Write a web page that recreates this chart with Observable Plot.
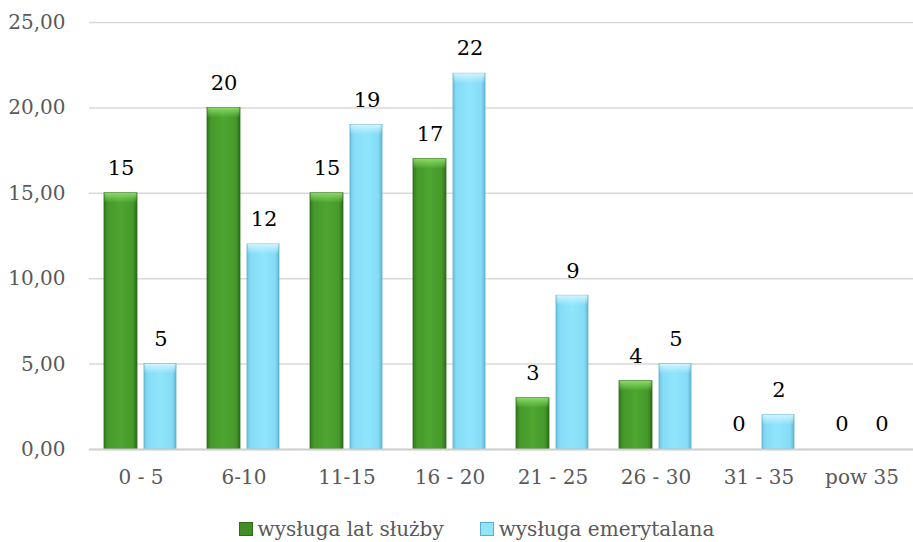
<!DOCTYPE html>
<html>
<head>
<meta charset="utf-8">
<script src="https://cdn.jsdelivr.net/npm/d3@7"></script>
<script src="https://cdn.jsdelivr.net/npm/@observablehq/plot@0.6"></script>
<style>
  body { margin: 0; background: #fff; }
  #chart { width: 913px; font-family: "DejaVu Serif", serif; }
  .legend { display: flex; justify-content: center; align-items: center; gap: 36px; font-size: 20px; color: #595959; font-family: "DejaVu Serif", serif; height: 37px; padding-top: 5px; margin-left: 40px; }
  .legend span.sw { display: inline-block; width: 12px; height: 12px; margin-right: 5px; vertical-align: middle; position: relative; top: -1px; }
</style>
</head>
<body>
<div id="chart"></div>
<script>
const categories = ["0 - 5", "6-10", "11-15", "16 - 20", "21 - 25", "26 - 30", "31 - 35", "pow 35"];
const seriesNames = ["wysługa lat służby", "wysługa emerytalana"];
const sluzby = [15, 20, 15, 17, 3, 4, 0, 0];
const emerytalna = [5, 12, 19, 22, 9, 5, 2, 0];
const yTicks = [0, 5, 10, 15, 20, 25];

const green = categories.map((c, i) => ({cat: c, value: sluzby[i]}));
const blue = categories.map((c, i) => ({cat: c, value: emerytalna[i]}));
const fmt = v => d3.format(".2f")(v).replace(".", ",");

const plot = Plot.plot({
  width: 913,
  height: 505,
  marginLeft: 89,
  marginRight: 0,
  marginTop: 22,
  marginBottom: 56,
  style: {fontFamily: "'DejaVu Serif', serif", fontSize: "20px", color: "#595959", overflow: "visible"},
  x: {domain: categories, padding: 0, label: null, tickSize: 0, tickPadding: 20},
  y: {domain: [0, 25], ticks: yTicks, tickFormat: fmt, label: null, tickSize: 0, tickPadding: 24},
  marks: [
    Plot.gridY(yTicks, {stroke: "#d9d9d9", strokeOpacity: 1, strokeWidth: 1.5}),
    Plot.barY(green.filter(d => d.value > 0), {x: "cat", y: "value", insetLeft: 15, insetRight: 55, fill: "url(#gGreen)", stroke: "#2f6b19", strokeWidth: 0.8}),
    Plot.barY(blue.filter(d => d.value > 0), {x: "cat", y: "value", insetLeft: 55, insetRight: 16, fill: "url(#gBlue)", stroke: "#5aaecb", strokeWidth: 0.8}),
    Plot.rect(green.filter(d => d.value > 0), {x: "cat", y1: "value", y2: "value", insetLeft: 15.5, insetRight: 55.5, insetBottom: -10, fill: "url(#gGreenTop)"}),
    Plot.rect(blue.filter(d => d.value > 0), {x: "cat", y1: "value", y2: "value", insetLeft: 55.5, insetRight: 16.5, insetBottom: -10, fill: "url(#gBlueTop)"}),
    Plot.ruleY([0], {stroke: "#d0d0d0", strokeWidth: 2}),
    Plot.text(green, {x: "cat", y: "value", text: d => String(d.value), dx: -20, dy: -25, fill: "#000", fontSize: 21}),
    Plot.text(blue, {x: "cat", y: "value", text: d => String(d.value), dx: 20, dy: -25, fill: "#000", fontSize: 21})
  ]
});

const defs = d3.create("svg:defs");
function hgrad(id, stops) {
  const g = defs.append("linearGradient").attr("id", id).attr("x1", 0).attr("x2", 1).attr("y1", 0).attr("y2", 0);
  stops.forEach(([o, c]) => g.append("stop").attr("offset", o).attr("stop-color", c));
}
function vgrad(id, c) {
  const g = defs.append("linearGradient").attr("id", id).attr("x1", 0).attr("x2", 0).attr("y1", 0).attr("y2", 1);
  g.append("stop").attr("offset", 0).attr("stop-color", c).attr("stop-opacity", 0.95);
  g.append("stop").attr("offset", 1).attr("stop-color", c).attr("stop-opacity", 0);
}
hgrad("gGreen", [[0, "#2f7a1a"], [0.12, "#46982b"], [0.5, "#4ea630"], [0.88, "#46982b"], [1, "#2a6b17"]]);
hgrad("gBlue", [[0, "#6cc6e2"], [0.12, "#86dcf6"], [0.5, "#8fe5fc"], [0.88, "#86dcf6"], [1, "#62b8d6"]]);
vgrad("gGreenTop", "#8ede6a");
vgrad("gBlueTop", "#d4f6ff");
plot.insertBefore(defs.node(), plot.firstChild);

document.getElementById("chart").appendChild(plot);

const legend = document.createElement("div");
legend.className = "legend";
const cols = [["#3f8f25", "#2f6b19"], ["#8fe5fc", "#5aaecb"]];
seriesNames.forEach((s, i) => {
  const item = document.createElement("div");
  const sw = document.createElement("span");
  sw.className = "sw";
  sw.style.background = cols[i][0];
  sw.style.border = "1px solid " + cols[i][1];
  item.appendChild(sw);
  item.appendChild(document.createTextNode(s));
  legend.appendChild(item);
});
document.getElementById("chart").appendChild(legend);
</script>
</body>
</html>
